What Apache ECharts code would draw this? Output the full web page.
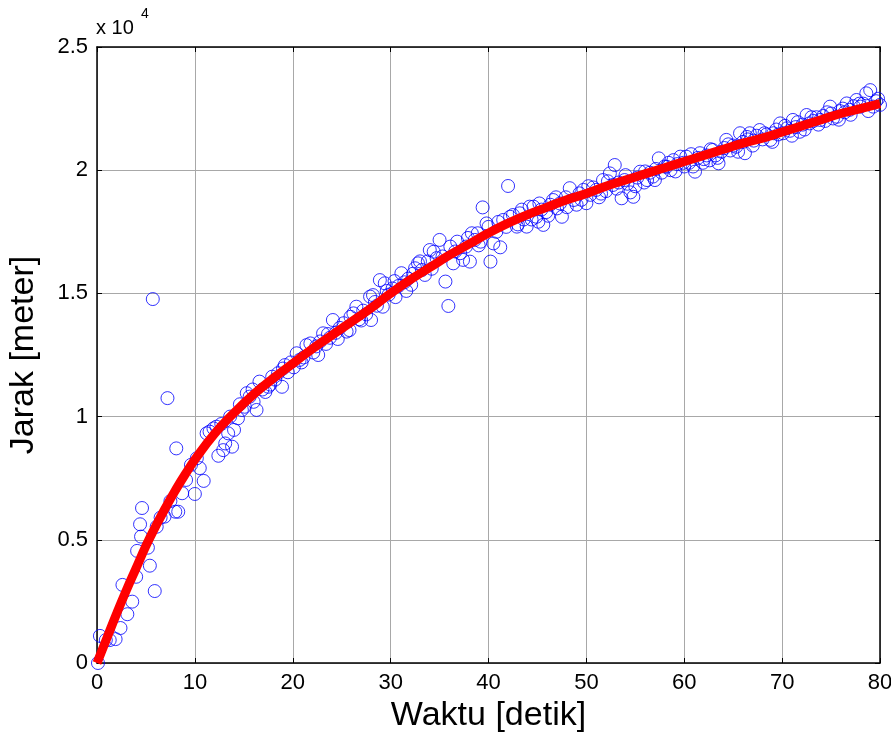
<!DOCTYPE html>
<html>
<head>
<meta charset="utf-8">
<script src="https://cdn.jsdelivr.net/npm/echarts@6/dist/echarts.min.js"></script>
<style>
  html, body { margin: 0; padding: 0; background: #fff; }
  #chart { width: 891px; height: 735px; }
</style>
</head>
<body>
<div id="chart"></div>
<script>
// data titik (waktu [s], jarak [m])
const waktu = [
  0.1, 0.3, 0.9, 1.3, 1.9, 2.4, 2.6, 3.1, 3.6, 4.0,
  4.1, 4.4, 4.5, 4.6, 5.2, 5.4, 5.7, 5.9, 6.1, 6.5,
  6.9, 7.2, 7.5, 8.0, 8.1, 8.3, 8.7, 9.1, 9.6, 10.0,
  10.2, 10.5, 10.9, 11.2,
  11.5, 11.9, 12.2, 12.4, 12.9, 13.1, 13.4, 13.6, 13.8, 14.0,
  14.4, 14.8, 15.1, 15.3, 15.6, 16.0, 16.3, 16.6, 16.9, 17.2,
  17.5, 17.9, 18.2, 18.5, 18.9, 19.2, 19.5, 19.8,
  20.1, 20.4, 20.7, 21.1, 21.4, 21.8, 22.1, 22.4, 22.8, 23.1,
  23.4, 23.8, 24.1, 24.4, 24.8, 25.2, 25.5, 25.8, 26.2, 26.5,
  26.8, 27.2, 27.5, 27.9, 28.0, 28.2, 28.6, 28.9, 29.2, 29.4,
  29.8,
  30.2, 30.5, 30.8, 31.1, 31.4, 31.8, 32.1, 32.5, 32.8, 33.2,
  33.5, 33.8, 34.0, 34.4, 34.7, 35.0, 35.3, 35.6, 35.9, 36.1,
  36.4, 36.8, 37.1, 37.4, 37.7, 38.1, 38.3, 38.6, 38.9, 39.2,
  39.4, 39.8, 40.2, 40.5, 40.8, 41.2, 41.5, 41.8, 42.0, 42.2,
  42.5, 42.9, 43.2, 43.6, 43.9,
  44.2, 44.6, 44.9, 45.1, 45.4, 45.6, 45.9, 46.3, 46.6, 47.0,
  47.3, 47.5, 47.9, 48.3, 48.7, 49.0, 49.3, 49.7, 50.0, 50.4,
  50.7, 51.0, 51.3, 51.7, 52.0, 52.4, 52.7, 52.9, 53.3, 53.6,
  53.9, 54.2, 54.5, 54.8, 55.2, 55.5, 55.9, 56.2, 56.5, 56.8,
  57.1, 57.4, 57.7, 58.0, 58.2, 58.6, 58.9, 59.3, 59.6, 59.9,
  60.2, 60.5, 60.9, 61.1, 61.4, 61.6, 62.0, 62.3, 62.6, 62.9,
  63.2, 63.5, 63.8, 64.1, 64.3, 64.7, 65.0, 65.3, 65.7, 66.0,
  66.2, 66.5, 66.7, 67.1, 67.4, 67.7, 68.0, 68.4, 68.8, 69.1,
  69.4, 69.8, 70.1, 70.5, 70.8, 71.1, 71.4, 71.8, 72.1, 72.5,
  72.8, 73.2, 73.5, 73.9, 74.2, 74.6, 74.9, 75.2, 75.6, 75.9,
  76.2, 76.6, 76.9, 77.3, 77.6, 78.0, 78.3, 78.6, 79.0, 79.3,
  79.6, 80.0,
  12.7, 14.6, 15.9, 17.7, 19.0,
  20.9, 22.6, 23.6, 24.6, 25.9, 27.0, 28.4, 29.6,
  30.4, 31.6, 32.3, 33.0, 34.2, 36.6, 37.9, 39.0, 40.0, 41.0, 43.0, 43.4,
  44.4, 45.2, 46.1, 46.9, 48.0, 49.5, 50.2, 51.5, 52.2, 53.1, 54.0, 55.0, 56.0, 57.0, 58.4, 59.1,
  60.0, 60.7, 61.9, 62.7, 63.4, 64.5, 65.5, 66.4, 67.0, 68.2, 69.0, 69.6, 70.3,
  71.0, 71.6, 72.3, 73.0, 73.7, 74.4, 75.0, 75.8, 76.4, 77.0, 77.9, 78.8, 79.8
]
const jarak = [
  0, 1100, 930, 930, 970, 1420, 3170, 1980, 2490, 3500,
  4550, 5630, 5130, 6290, 4680, 3950, 14770, 2920, 5530, 5900,
  5940, 10750, 6570, 6140, 8710, 6140, 6890, 7430, 8040, 6860,
  8310, 7910, 7390, 9320,
  9390, 9520, 9590, 8410, 8640, 8910, 9320, 10000, 8780, 9460,
  9930, 10270, 10400, 10950, 10810, 10600, 10270, 11420, 11100, 11000,
  11210, 11620, 11500, 11760, 11210, 12090, 11800, 12200,
  12000, 12570, 12300, 12400, 12900, 12970, 12600, 12850, 13050, 13380,
  12950, 13200, 13920, 13400, 13600, 13790, 13450, 13510, 14190, 14460,
  13950, 14300, 14150, 14870, 13920, 14930, 14500, 15540, 14460, 15410,
  14950,
  15200, 14850, 15300, 15820, 15450, 15600, 15350, 16020, 16220, 15950,
  15750, 16300, 16760, 16690, 16430, 17170, 16500, 15480, 14490, 16900,
  16220, 17100, 16630, 16360, 16900, 16290, 17440, 17170, 17440, 17100,
  18490, 17840, 16290, 17030, 17500, 16870, 17980, 17700, 19360, 18110,
  18180, 17710, 18250, 18000, 17710,
  18520, 18520, 18110, 17910, 18400, 17780, 18300, 18600, 18790, 18450,
  18650, 18110, 18900, 19270, 18790, 18600, 19060, 19200, 18660, 19000,
  19300, 19200, 18900, 19600, 19150, 19870, 19400, 20210, 19500, 18860,
  19600, 19450, 19100, 18920, 19700, 19940, 19500, 19600, 19900, 19740,
  20050, 20480, 19900, 20150, 20140, 20000, 20410, 20250, 20550, 20300,
  20550, 20300, 20150, 19940, 20500, 20690, 20450, 20600, 20400, 20820,
  20600, 20280, 20750, 20900, 21230, 20800, 21000, 20950, 21500, 21150,
  20690, 21250, 21500, 21200, 21400, 21630, 21250, 21450, 21230, 21500,
  21650, 21900, 21500, 21700, 21600, 22040, 21750, 21560, 21850, 22240,
  21900, 22000, 22150, 22040, 22200, 22350, 22580, 22100, 22170, 22400,
  22500, 22710, 22450, 22600, 22850, 22580, 22700, 23120, 23250, 22580,
  22800, 22650,
  9700, 10500, 11100, 11300, 11950,
  12200, 12500, 13350, 13150, 14050, 13900, 14650, 15100,
  15500, 15100, 15800, 16300, 16000, 16700, 17250, 16950, 17700, 17900, 17800, 18400,
  18000, 18650, 18150, 18900, 18500, 18800, 19350, 19050, 19550, 19250, 19800, 19350, 19950, 19600, 20300, 19950,
  20150, 20650, 20300, 20850, 20500, 21050, 20750, 21350, 21000, 21500, 21150, 21450, 21800,
  21400, 21950, 21650, 22150, 21850, 22000, 22300, 22050, 22350, 22250, 22700, 22400, 22900
]

// kurva fit (merah)
const fitWaktu = [0, 1, 2, 3, 4, 5, 6, 7, 8, 9, 10, 12, 14, 16, 18, 20, 22, 24, 26, 28, 30,
  32, 34, 36, 38, 40, 42, 44, 46, 48, 50, 52, 54, 56, 58, 60, 62, 64, 66, 68, 70,
  72, 74, 76, 78, 80]
const fitJarak = [0, 1000, 2000, 2950, 3850, 4750, 5550, 6300, 7000, 7650, 8250, 9300, 10150, 10900, 11550, 12150, 12750, 13300, 13850, 14400, 15000,
  15550, 16050, 16550, 17000, 17450, 17850, 18200, 18500, 18800, 19050, 19350, 19600, 19850, 20100, 20350, 20600, 20850, 21100, 21300, 21550,
  21800, 22050, 22300, 22500, 22700]

const xTicks = [0, 10, 20, 30, 40, 50, 60, 70, 80]
const yTickLabels = ['0', '0.5', '1', '1.5', '2', '2.5']

const font = 'Liberation Sans, Arial, sans-serif'

const titik = waktu.map((t, i) => [t, jarak[i]])
const fit = fitWaktu.map((t, i) => [t, fitJarak[i]])

const chart = echarts.init(document.getElementById('chart'))

const tickStyle = { inside: true, length: 5, lineStyle: { color: '#000', width: 1 } }

chart.setOption({
  animation: false,
  backgroundColor: '#fff',
  grid: { left: 97, right: 11, top: 47, bottom: 72, containLabel: false, outerBoundsMode: 'none' },
  xAxis: [
    {
      type: 'value',
      min: xTicks[0],
      max: xTicks[xTicks.length - 1],
      interval: 10,
      position: 'bottom',
      axisLine: { onZero: false, lineStyle: { color: '#000', width: 1.5 } },
      axisTick: tickStyle,
      axisLabel: { color: '#000', fontSize: 22, fontFamily: font, margin: 9 },
      splitLine: { show: true, lineStyle: { color: '#a8a8a8', width: 1 } },
      name: 'Waktu [detik]',
      nameLocation: 'middle',
      nameGap: 34,
      nameTextStyle: { color: '#000', fontSize: 34, fontFamily: font }
    },
    {
      type: 'value',
      min: 0,
      max: 80,
      interval: 10,
      position: 'top',
      axisLine: { onZero: false, lineStyle: { color: '#000', width: 1.5 } },
      axisTick: tickStyle,
      axisLabel: { show: false },
      splitLine: { show: false }
    }
  ],
  yAxis: [
    {
      type: 'value',
      min: 0,
      max: 25000,
      interval: 5000,
      position: 'left',
      axisLine: { show: true, onZero: false, lineStyle: { color: '#000', width: 1.5 } },
      axisTick: tickStyle,
      axisLabel: {
        color: '#000', fontSize: 22, fontFamily: font, margin: 9,
        formatter: (v) => yTickLabels[Math.round(v / 5000)]
      },
      splitLine: { show: true, lineStyle: { color: '#a8a8a8', width: 1 } },
      name: 'Jarak [meter]',
      nameLocation: 'middle',
      nameGap: 56,
      nameTextStyle: { color: '#000', fontSize: 34, fontFamily: font }
    },
    {
      type: 'value',
      min: 0,
      max: 25000,
      interval: 5000,
      position: 'right',
      axisLine: { show: true, onZero: false, lineStyle: { color: '#000', width: 1.5 } },
      axisTick: tickStyle,
      axisLabel: { show: false },
      splitLine: { show: false }
    }
  ],
  graphic: [
    { type: 'text', left: 96, top: 18, style: { text: 'x 10', fill: '#000', font: '20px ' + font } },
    { type: 'text', left: 141, top: 7, style: { text: '4', fill: '#000', font: '14px ' + font } }
  ],
  series: [
    {
      type: 'scatter',
      data: titik,
      symbol: 'circle',
      symbolSize: 13,
      itemStyle: { color: 'transparent', borderColor: '#0000ff', borderWidth: 1 },
      z: 2
    },
    {
      type: 'line',
      data: fit,
      smooth: true,
      showSymbol: false,
      lineStyle: { color: '#ff0000', width: 9 },
      z: 3
    }
  ]
})
</script>
</body>
</html>
